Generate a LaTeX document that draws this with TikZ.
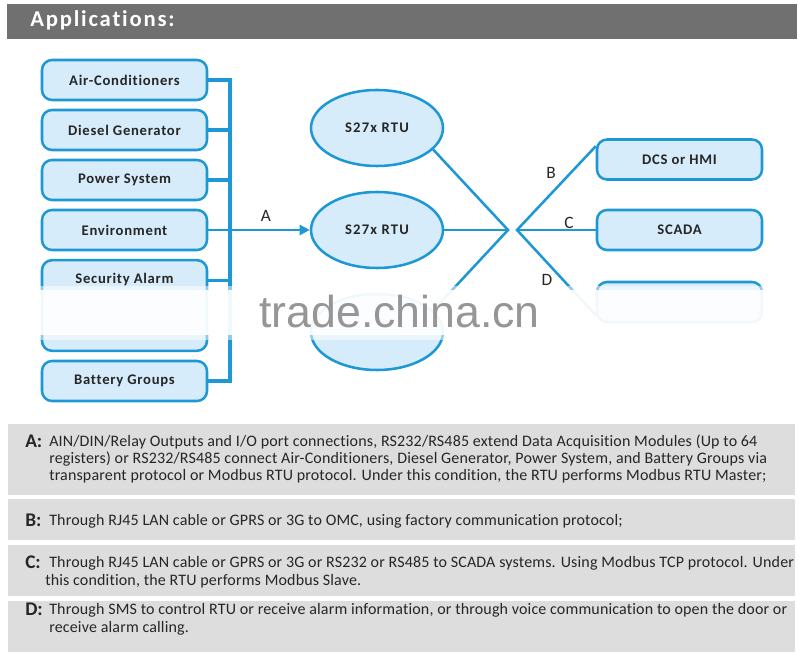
\documentclass[tikz,border=0pt]{standalone}
\usepackage{fontspec}
\setmainfont{Carlito}[Ligatures=NoCommon]
\newfontfamily\wmfont{Liberation Sans}
\usetikzlibrary{arrows.meta,shapes.geometric}
\definecolor{lineblue}{RGB}{30,152,212}
\definecolor{fillblue}{RGB}{214,236,250}
\definecolor{hdrgray}{RGB}{112,112,112}
\definecolor{notegray}{RGB}{221,221,221}
\definecolor{txt}{RGB}{38,38,38}
\definecolor{wmgray}{RGB}{150,150,150}
\tikzset{
  devbox/.style={draw=lineblue, fill=fillblue, line width=1.9pt, rounded corners=7.5pt,
    minimum width=123.75pt, minimum height=30pt, inner sep=0pt, text=txt,
    font=\fontsize{11}{13}\selectfont\bfseries\addfontfeature{LetterSpace=5}},
  rtu/.style={ellipse, draw=lineblue, fill=fillblue, line width=1.9pt,
    minimum width=99pt, minimum height=57pt, inner sep=0pt, text=txt,
    font=\fontsize{11}{13}\selectfont\bfseries\addfontfeature{LetterSpace=8}},
  bus/.style={draw=lineblue, line width=2.5pt},
  conn/.style={draw=lineblue, line width=1.9pt},
  lbl/.style={text=txt, font=\fontsize{13}{15}\selectfont, inner sep=0pt},
  note/.style={fill=notegray, draw=none},
  notekey/.style={anchor=base west, inner sep=0pt, text=txt, font=\fontsize{14.5}{16}\selectfont\bfseries},
  noteline/.style={anchor=base west, inner sep=0pt, text=txt, font=\fontsize{12}{14}\selectfont\addfontfeature{LetterSpace=1}},
}
\begin{document}
\begin{tikzpicture}[x=0.75pt,y=-0.75pt]
\useasboundingbox (0,0) rectangle (799,655);
\fill[white] (0,0) rectangle (799,655);
% header
\fill[hdrgray] (7,4) rectangle (797,39);
\node[anchor=base west, inner sep=0pt, text=white, font=\fontsize{17}{19}\selectfont\bfseries\addfontfeature{LetterSpace=8}] (hdr) at (30,27) {Applications:};

% left devices
\node[devbox] (b1) at (124.5,80) {Air-Conditioners};
\node[devbox] (b2) at (124.5,130) {Diesel Generator};
\node[devbox] (b3) at (124.5,180) {Power System};
\node[devbox] (b4) at (124.5,230) {Environment};
\node[devbox, minimum height=68pt] (b5) at (124.5,305.5) {};
\node[text=txt, font=\fontsize{11}{13}\selectfont\bfseries\addfontfeature{LetterSpace=5}] (b5t) at (124.5,280) {Security Alarm};
\node[devbox] (b6) at (124.5,381) {Battery Groups};

% bus
\coordinate (bt) at (230,80);
\coordinate (bb) at (230,381);
\draw[bus] (b1.east) -- (b1.east -| bt);
\draw[bus] (b2.east) -- (b2.east -| bt);
\draw[bus] (b3.east) -- (b3.east -| bt);
\draw[bus] ([yshift=18.75pt]b5.east) -- ([yshift=18.75pt]b5.east -| bt);
\draw[bus] (b6.east) -- (b6.east -| bt);
\draw[bus, line cap=rect] (bt) -- (bb);

% RTUs
\node[rtu] (e1) at (377,128) {S27x RTU};
\node[rtu] (e2) at (377,230) {S27x RTU};
\node[rtu] (e3) at (377,332) {};

\draw[conn, -{Triangle[length=7.5pt,width=7.5pt]}] (b4.east) -- (e2.west);
\node[lbl] (la) at (266,216) {A};

% right side
\node[devbox] (r1) at (679.5,159.5) {DCS or HMI};
\node[devbox] (r2) at (679.5,230) {SCADA};
\node[devbox] (r3) at (679.5,302) {};

\coordinate (j1) at (508,230);
\coordinate (j2) at (517,230);
\draw[conn] (e1.-21) -- (j1) -- (e3.21);
\draw[conn] (e2.east) -- (j1);
\draw[conn] (r1.171) -- (j2) -- (r3.189);
\draw[conn] (j2) -- (r2.west);
\node[lbl] (lb) at (551,173) {B};
\node[lbl] (lc) at (569,223) {C};
\node[lbl] (ld) at (547,280) {D};

% blurred band
\fill[white, opacity=0.5] (30,286) rectangle (780,340);
\fill[white, opacity=0.88] (30,290) rectangle (780,335);

% watermark
\node[anchor=base west, inner sep=0pt, text=wmgray, font=\wmfont\fontsize{33.5}{36}\selectfont] (wm) at (259,328) {trade.china.cn};

% notes
\fill[note] (8,424) rectangle (795,495);
\fill[note] (8,499) rectangle (795,540);
\fill[note] (8,545) rectangle (795,596);
\fill[note] (8,601) rectangle (795,652);

\node[notekey] (ka) at (25,447) {A:};
\node[noteline] (a1) at (49,446) {AIN/DIN/Relay Outputs and I/O port connections, RS232/RS485 extend Data Acquisition Modules (Up to 64};
\node[noteline] (a2) at (49,463) {registers) or RS232/RS485 connect Air-Conditioners, Diesel Generator, Power System, and Battery Groups via};
\node[noteline] (a3) at (49,480) {transparent protocol or Modbus RTU protocol. Under this condition, the RTU performs Modbus RTU Master;};

\node[notekey] (kb) at (25,526) {B:};
\node[noteline] (bl1) at (49,525) {Through RJ45 LAN cable or GPRS or 3G to OMC, using factory communication protocol;};

\node[notekey] (kc) at (25,568) {C:};
\node[noteline] (c1) at (49,567) {Through RJ45 LAN cable or GPRS or 3G or RS232 or RS485 to SCADA systems. Using Modbus TCP protocol. Under};
\node[noteline] (c2) at (45,585) {this condition, the RTU performs Modbus Slave.};

\node[notekey] (kd) at (25,615) {D:};
\node[noteline] (d1) at (49,614) {Through SMS to control RTU or receive alarm information, or through voice communication to open the door or};
\node[noteline] (d2) at (49,632) {receive alarm calling.};
\end{tikzpicture}
\end{document}
